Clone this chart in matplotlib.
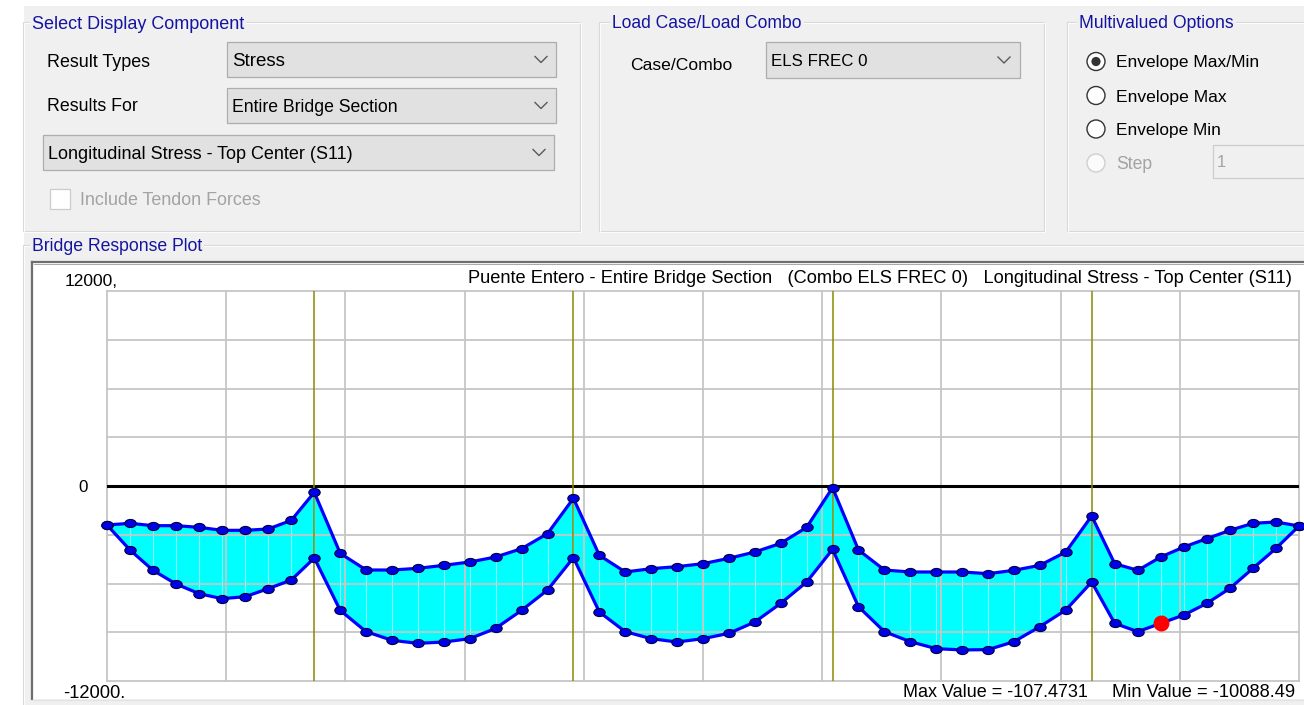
import numpy as np
import matplotlib
matplotlib.use("Agg")
import matplotlib.pyplot as plt
from matplotlib.patches import Rectangle, Circle
from matplotlib.path import Path
from matplotlib.transforms import Affine2D

plt.rcParams['font.family'] = ['Liberation Sans', 'DejaVu Sans']

# ---------------- data ----------------
pier_stations = [40, 90, 140, 190]
stations = [0, 4.44, 8.89, 13.33, 17.78, 22.22, 26.67, 31.11, 35.56, 40,
            45, 50, 55, 60, 65, 70, 75, 80, 85, 90,
            95, 100, 105, 110, 115, 120, 125, 130, 135, 140,
            145, 150, 155, 160, 165, 170, 175, 180, 185, 190,
            194.44, 198.89, 203.33, 207.78, 212.22, 216.67, 221.11, 225.56, 230]
stress_max = [-2400, -2297, -2441, -2441, -2544, -2728, -2728, -2646, -2113, -390,
              -4144, -5169, -5169, -5067, -4882, -4677, -4369, -3856, -2933, -759,
              -4267, -5292, -5087, -4964, -4780, -4451, -4062, -3528, -2544, -107.4731,
              -3938, -5169, -5292, -5292, -5292, -5395, -5190, -4882, -4062, -1846,
              -4780, -5190, -4369, -3754, -3241, -2728, -2297, -2215, -2462]
stress_min = [-2400, -3938, -5190, -6031, -6626, -6934, -6810, -6318, -5785, -4431,
              -7651, -8964, -9497, -9682, -9600, -9395, -8759, -7651, -6400, -4410,
              -7754, -8964, -9395, -9600, -9395, -9067, -8369, -7221, -5908, -3897,
              -7426, -8964, -9580, -10010, -10088.49, -10070, -9580, -8656, -7631, -5908,
              -8451, -8964, -8451, -7938, -7221, -6297, -5067, -3836, -2462]
highlight_index = 42
x_grid = [0, 23, 46, 69, 92, 115, 138, 161, 184, 207, 230]
y_grid = [-12000, -9000, -6000, -3000, 0, 3000, 6000, 9000, 12000]
y_limits = [-12000, 12000]
plot_title = "Puente Entero - Entire Bridge Section   (Combo ELS FREC 0)   Longitudinal Stress - Top Center (S11)"
max_text = "Max Value = -107.4731"
min_text = "Min Value = -10088.49"

# ---------------- figure ----------------
W, H = 1304, 705
fig = plt.figure(figsize=(W / 100, H / 100), dpi=100, facecolor='white')
ui = fig.add_axes([0, 0, 1, 1])
ui.set_xlim(0, W)
ui.set_ylim(H, 0)
ui.axis('off')
renderer = fig.canvas.get_renderer()

BLUE_T = '#1414a0'
GRAY_T = '#a3a3a3'
PANEL = '#f0f0f0'

ui.add_patch(Rectangle((24, 6), W - 24, H - 6, fc=PANEL, ec='none', zorder=0))


def put(x0, x1, yb, s, color='black', size=None, bg=None, zorder=5):
    kw = {}
    if bg is not None:
        kw['bbox'] = dict(fc=bg, ec='none', pad=1.5)
    t = ui.text(x0, yb, s, fontsize=12, color=color, ha='left', va='baseline',
                zorder=zorder, **kw)
    if size is None:
        w = t.get_window_extent(renderer).width
        t.set_fontsize(12 * (x1 - x0) / w)
    else:
        t.set_fontsize(size)
    return t


def frame(x0, y0, x1, y1):
    ui.add_patch(Rectangle((x0, y0), x1 - x0, y1 - y0, fill=False, ec='#d9d9d9', lw=0.8, zorder=1))
    ui.add_patch(Rectangle((x0 + 1, y0 + 1), x1 - x0, y1 - y0, fill=False, ec='white', lw=0.6, zorder=1))


def combo(x0, y0, x1, y1, chev_x):
    ui.add_patch(Rectangle((x0, y0), x1 - x0, y1 - y0, fc='#e1e1e1', ec='#adadad', lw=0.9, zorder=2))
    cy = (y0 + y1) / 2
    ui.plot([chev_x - 6, chev_x, chev_x + 6], [cy - 3, cy + 3, cy - 3], color='#5a5a5a', lw=1.0, zorder=3)


# group boxes
frame(23, 22, 580, 231)
frame(599, 22, 1044, 231)
frame(1067, 22, 1320, 231)
frame(23, 245, 1320, 720)

put(32, 244, 29, "Select Display Component", color=BLUE_T, bg=PANEL)
put(612, 803, 28.5, "Load Case/Load Combo", color=BLUE_T, bg=PANEL)
put(1079, 1234, 28.5, "Multivalued Options", color=BLUE_T, bg=PANEL)
put(32, 203, 251, "Bridge Response Plot", color=BLUE_T, bg=PANEL)

# group 1 controls
put(47, 150, 67, "Result Types")
combo(227, 42, 556, 77, 541)
put(232, 285, 66, "Stress")
put(47, 138, 111, "Results For")
combo(227, 88, 556, 123, 541)
put(232, 398, 112, "Entire Bridge Section")
combo(43, 135, 554, 170, 539)
put(48, 353, 159, "Longitudinal Stress - Top Center (S11)")
ui.add_patch(Rectangle((50, 189), 20, 20, fc='white', ec='#cccccc', lw=0.9, zorder=2))
put(80, 261, 205, "Include Tendon Forces", color=GRAY_T)

# group 2 controls
put(630, 732, 70.5, "Case/Combo")
combo(766, 42, 1020, 78, 1004)
put(771, 867, 66.5, "ELS FREC 0")

# group 3 controls
radio_y = [61.5, 95.5, 129, 163]
radio_lbl = ["Envelope Max/Min", "Envelope Max", "Envelope Min", "Step"]
radio_right = [1259, 1227, 1221, 1152]
radio_base = [67.3, 101.7, 135, 169]
for i, (ry, lbl, rr, rb) in enumerate(zip(radio_y, radio_lbl, radio_right, radio_base)):
    dis = (i == 3)
    ui.add_patch(Circle((1096, ry), 9, fc='#fbfbfb' if dis else 'white',
                        ec='#cfcfcf' if dis else '#333333', lw=1.0, zorder=2))
    if i == 0:
        ui.add_patch(Circle((1096, ry), 4.6, fc='#333333', ec='none', zorder=3))
    put(1116, rr, rb, lbl, color=GRAY_T if dis else 'black')
ui.add_patch(Rectangle((1213, 145), 110, 33, fc=PANEL, ec='#cccccc', lw=0.9, zorder=2))
put(1217, 1225, 167, "1", color=GRAY_T, size=12)

# plot box (sunken)
ui.add_patch(Rectangle((32, 262), W - 32 + 5, 437, fc='white', ec='none', zorder=1))
ui.plot([32, 32], [699, 262], color='#6e6e6e', lw=1.6, zorder=2)
ui.plot([32, W], [262, 262], color='#6e6e6e', lw=1.6, zorder=2)
ui.plot([34, W], [264, 264], color='#a8a8a8', lw=0.7, zorder=2)
ui.plot([32, W], [699.5, 699.5], color='#e3e3e3', lw=1.0, zorder=2)

put(468, 1295, 283, plot_title)
put(65, 118, 286, "12000,")
put(78, 88, 492.5, "0", size=12.2)
put(63, 125, 698, "-12000.")
put(903, 1089, 697.3, max_text)
put(1112, 1295, 697.3, min_text)

# ---------------- chart axes ----------------
x_left, x_right, y_top, y_bot = 107, 1299, 291, 681
ax = fig.add_axes([x_left / W, (H - y_bot) / H, (x_right - x_left) / W, (y_bot - y_top) / H])
ax.set_facecolor('none')
ax.set_xlim(x_grid[0], x_grid[-1])
ax.set_ylim(*y_limits)
ax.axis('off')

ax.fill_between(stations, stress_min, stress_max, color='#00ffff', lw=0, zorder=1)
ax.vlines(stations, stress_min, stress_max, color='white', lw=0.8, alpha=0.55, zorder=1.5)
for gx in x_grid:
    ax.axvline(gx, color='#c6c6c6', lw=1.3, zorder=2, clip_on=False)
for gy in y_grid:
    ax.axhline(gy, color='#c6c6c6', lw=1.3, zorder=2, clip_on=False)
ax.axhline(0, color='black', lw=2.2, zorder=2.2)
for px in pier_stations:
    ax.axvline(px, color='#8a8a00', lw=1.1, zorder=2.5)

ell = Path.unit_circle().transformed(Affine2D().scale(1.4, 1.0))
for series in (stress_max, stress_min):
    ax.plot(stations, series, color='#0000ff', lw=2.3, zorder=3, clip_on=False)
    ax.plot(stations, series, ls='none', marker=ell, ms=8.2, mfc='#0000e6',
            mec='#000040', mew=0.8, zorder=4, clip_on=False)
ax.plot([stations[highlight_index]], [stress_min[highlight_index]], ls='none', marker='o',
        ms=10.5, mfc='#ff0000', mec='#ff0000', zorder=5, clip_on=False)

fig.savefig('out.png', dpi=100, facecolor='white')
